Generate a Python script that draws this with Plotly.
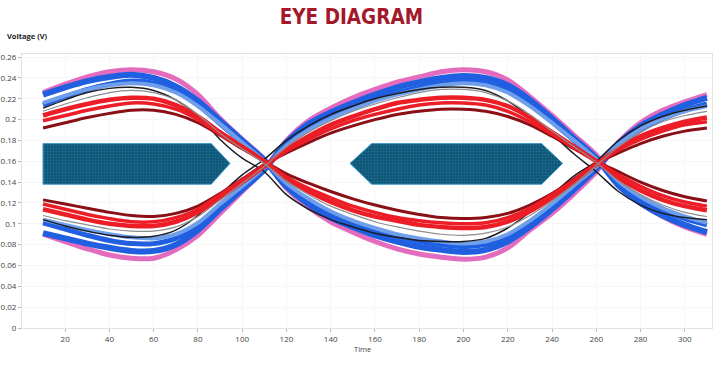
import plotly.graph_objects as go

# ---------------- data ----------------
TIME = [10, 20, 30, 40, 50, 60, 70, 80, 90, 100, 110,
        120, 130, 140, 150, 160, 170, 180, 190, 200, 210, 220, 230, 240, 250, 260,
        270, 280, 290, 300, 310]

PINK_U = [0.226, 0.234, 0.241, 0.246, 0.248, 0.246, 0.239, 0.224, 0.201, 0.181, 0.162,
          0.134, 0.116, 0.102, 0.092, 0.083, 0.076, 0.071, 0.068, 0.066, 0.068, 0.077, 0.094, 0.110, 0.129, 0.150,
          0.178, 0.197, 0.209, 0.217, 0.224]
PINK_L = [0.090, 0.083, 0.076, 0.070, 0.067, 0.067, 0.075, 0.089, 0.110, 0.131, 0.152,
          0.180, 0.199, 0.211, 0.221, 0.229, 0.236, 0.241, 0.246, 0.248, 0.246, 0.238, 0.222, 0.204, 0.185, 0.166,
          0.138, 0.120, 0.107, 0.097, 0.090]

BLUE_U = [0.224, 0.231, 0.237, 0.241, 0.243, 0.240, 0.232, 0.218, 0.199, 0.180, 0.161,
          0.136, 0.119, 0.106, 0.097, 0.089, 0.083, 0.078, 0.075, 0.073, 0.075, 0.083, 0.097, 0.114, 0.133, 0.153,
          0.177, 0.194, 0.205, 0.214, 0.221]
BLUE_U2 = [0.214, 0.222, 0.229, 0.234, 0.237, 0.235, 0.228, 0.214, 0.196, 0.178, 0.160,
           0.138, 0.122, 0.110, 0.101, 0.094, 0.088, 0.083, 0.080, 0.078, 0.080, 0.087, 0.100, 0.117, 0.135, 0.154,
           0.175, 0.190, 0.201, 0.209, 0.215]
BLUE_L = [0.091, 0.086, 0.081, 0.077, 0.074, 0.074, 0.080, 0.094, 0.114, 0.133, 0.152,
          0.178, 0.196, 0.207, 0.216, 0.224, 0.231, 0.236, 0.240, 0.242, 0.240, 0.233, 0.219, 0.201, 0.182, 0.163,
          0.137, 0.120, 0.108, 0.099, 0.092]
BLUE_L2 = [0.101, 0.095, 0.089, 0.084, 0.081, 0.081, 0.086, 0.098, 0.117, 0.135, 0.153,
           0.176, 0.192, 0.203, 0.212, 0.220, 0.226, 0.231, 0.235, 0.237, 0.235, 0.228, 0.215, 0.198, 0.180, 0.162,
           0.139, 0.124, 0.113, 0.105, 0.099]

LBLUE_U = [0.216, 0.223, 0.229, 0.233, 0.235, 0.233, 0.226, 0.213, 0.196, 0.178, 0.160,
           0.139, 0.124, 0.112, 0.103, 0.096, 0.090, 0.086, 0.083, 0.081, 0.083, 0.090, 0.103, 0.119, 0.137, 0.155,
           0.176, 0.191, 0.201, 0.208, 0.213]
LBLUE_L = [0.104, 0.099, 0.094, 0.090, 0.087, 0.086, 0.090, 0.101, 0.119, 0.136, 0.154,
           0.175, 0.190, 0.201, 0.210, 0.218, 0.224, 0.229, 0.233, 0.235, 0.233, 0.226, 0.213, 0.197, 0.180, 0.162,
           0.141, 0.126, 0.115, 0.107, 0.101]

BLACK_U = [0.211, 0.219, 0.226, 0.230, 0.231, 0.228, 0.219, 0.204, 0.181, 0.163, 0.150,
           0.128, 0.114, 0.104, 0.097, 0.091, 0.087, 0.084, 0.083, 0.083, 0.086, 0.096, 0.111, 0.128, 0.146, 0.160,
           0.180, 0.194, 0.203, 0.209, 0.213]
BLACK_L = [0.104, 0.098, 0.093, 0.089, 0.087, 0.088, 0.094, 0.108, 0.128, 0.147, 0.162,
           0.180, 0.194, 0.205, 0.213, 0.220, 0.225, 0.229, 0.231, 0.231, 0.228, 0.218, 0.203, 0.186, 0.167, 0.150,
           0.131, 0.118, 0.110, 0.106, 0.104]

GRAY_U = [0.208, 0.215, 0.221, 0.226, 0.228, 0.226, 0.219, 0.205, 0.187, 0.172, 0.158,
          0.141, 0.128, 0.117, 0.109, 0.102, 0.097, 0.093, 0.090, 0.089, 0.091, 0.097, 0.108, 0.122, 0.138, 0.156,
          0.174, 0.188, 0.198, 0.204, 0.208]
GRAY_L = [0.108, 0.103, 0.099, 0.095, 0.093, 0.093, 0.097, 0.107, 0.123, 0.139, 0.155,
          0.174, 0.188, 0.199, 0.208, 0.215, 0.221, 0.226, 0.229, 0.229, 0.226, 0.218, 0.205, 0.189, 0.174, 0.159,
          0.141, 0.128, 0.118, 0.111, 0.107]

RED_U = [0.204, 0.210, 0.215, 0.219, 0.221, 0.220, 0.214, 0.203, 0.188, 0.174, 0.160,
         0.143, 0.131, 0.121, 0.113, 0.107, 0.103, 0.099, 0.097, 0.096, 0.097, 0.102, 0.112, 0.125, 0.140, 0.157,
         0.172, 0.184, 0.192, 0.198, 0.202]
RED_U2 = [0.199, 0.204, 0.209, 0.213, 0.216, 0.215, 0.210, 0.200, 0.186, 0.173, 0.160,
          0.145, 0.134, 0.125, 0.117, 0.111, 0.106, 0.103, 0.101, 0.100, 0.101, 0.106, 0.115, 0.128, 0.142, 0.158,
          0.171, 0.181, 0.189, 0.195, 0.198]
RED_L = [0.114, 0.109, 0.104, 0.100, 0.098, 0.098, 0.102, 0.111, 0.125, 0.140, 0.155,
         0.171, 0.184, 0.195, 0.203, 0.210, 0.216, 0.219, 0.221, 0.221, 0.219, 0.213, 0.202, 0.188, 0.174, 0.160,
         0.144, 0.132, 0.123, 0.117, 0.113]
RED_L2 = [0.119, 0.114, 0.109, 0.105, 0.102, 0.102, 0.106, 0.114, 0.128, 0.142, 0.156,
          0.170, 0.181, 0.191, 0.199, 0.205, 0.210, 0.214, 0.216, 0.216, 0.214, 0.208, 0.198, 0.186, 0.173, 0.160,
          0.147, 0.136, 0.127, 0.121, 0.117]

DRED_U = [0.192, 0.197, 0.202, 0.206, 0.209, 0.209, 0.205, 0.197, 0.185, 0.172, 0.160,
          0.148, 0.139, 0.131, 0.124, 0.118, 0.113, 0.109, 0.106, 0.105, 0.106, 0.110, 0.118, 0.129, 0.143, 0.158,
          0.168, 0.177, 0.184, 0.189, 0.192]
DRED_L = [0.123, 0.119, 0.115, 0.111, 0.108, 0.107, 0.110, 0.117, 0.129, 0.143, 0.157,
          0.168, 0.178, 0.187, 0.194, 0.200, 0.205, 0.208, 0.210, 0.210, 0.208, 0.203, 0.195, 0.184, 0.172, 0.160,
          0.150, 0.140, 0.132, 0.126, 0.122]

# eye-opening markers (data coordinates)
LEFT_MARK_T = [10, 86, 94.5, 86, 10, 10]
LEFT_MARK_V = [0.177, 0.177, 0.158, 0.138, 0.138, 0.177]
RIGHT_MARK_T = [148.7, 158.5, 235.3, 244.8, 235.3, 158.5, 148.7]
RIGHT_MARK_V = [0.158, 0.177, 0.177, 0.158, 0.138, 0.138, 0.158]

X_TICKS = [20, 40, 60, 80, 100, 120, 140, 160, 180, 200, 220, 240, 260, 280, 300]
Y_TICKS = [0, 0.02, 0.04, 0.06, 0.08, 0.1, 0.12, 0.14, 0.16, 0.18, 0.2, 0.22, 0.24, 0.26]
Y_TICK_TEXT = ["0", "0.02", "0.04", "0.06", "0.08", "0.1", "0.12", "0.14", "0.16",
               "0.18", "0.2", "0.22", "0.24", "0.26"]

# ---------------- figure ----------------
PINK = "#e46cbf"
BLUE = "#1f5fe0"
LBLUE = "#6f9fea"
BLACK = "#1c1c22"
GRAY = "#8e8e8e"
RED = "#ec1d26"
DRED = "#8a1015"

series = [
    (PINK_U, PINK, 5), (PINK_L, PINK, 5),
    (BLUE_U, BLUE, 6), (BLUE_L, BLUE, 6),
    (BLUE_U2, BLUE, 5), (BLUE_L2, BLUE, 5),
    (LBLUE_U, LBLUE, 4), (LBLUE_L, LBLUE, 4),
    (BLACK_U, BLACK, 1.5), (BLACK_L, BLACK, 1.5),
    (DRED_U, DRED, 3), (DRED_L, DRED, 3),
    (RED_U, RED, 4.5), (RED_L, RED, 4.5),
    (RED_U2, RED, 3.5), (RED_L2, RED, 3.5),
    (GRAY_U, GRAY, 1.2), (GRAY_L, GRAY, 1.2),
]

fig = go.Figure()

for vals, col, w in series:
    fig.add_trace(go.Scatter(
        x=TIME, y=vals, mode="lines",
        line=dict(color=col, width=w, shape="spline", smoothing=0.8),
        hoverinfo="skip", showlegend=False))

for tx, vy in ((LEFT_MARK_T, LEFT_MARK_V), (RIGHT_MARK_T, RIGHT_MARK_V)):
    fig.add_trace(go.Scatter(
        x=tx, y=vy, mode="lines", fill="toself",
        fillcolor="#115879",
        fillpattern=dict(shape=".", bgcolor="#0f5475", fgcolor="#2a86b0",
                         size=3, solidity=0.35),
        line=dict(color="#3d9bcc", width=1),
        hoverinfo="skip", showlegend=False))

fig.update_layout(
    width=720, height=365,
    margin=dict(l=22, r=8, t=54, b=37),
    paper_bgcolor="white", plot_bgcolor="white",
    title=dict(text="<b>EYE DIAGRAM</b>", x=0.488, xanchor="center",
               y=0.955, yanchor="middle",
               font=dict(family="Liberation Sans Narrow, DejaVu Sans Condensed, Arial Narrow, sans-serif",
                         size=20.5, color="#a3192b")),
    font=dict(family="Open Sans, Lato, sans-serif", size=8, color="#444"),
)

fig.update_xaxes(
    range=[0.5, 312.3], tickvals=X_TICKS, ticks="outside", ticklen=3,
    tickcolor="#bbb", showline=True, linecolor="#e2e2e2", mirror=True,
    showgrid=True, gridcolor="#f6f6f6", zeroline=False, automargin=False,
    tickfont=dict(size=8, color="#444"))
fig.update_yaxes(
    range=[0, 0.263], tickvals=Y_TICKS, ticktext=Y_TICK_TEXT, ticks="outside",
    ticklen=3, tickcolor="#bbb", showline=True, linecolor="#e2e2e2", mirror=True,
    showgrid=True, gridcolor="#f6f6f6", zeroline=False, automargin=False,
    tickfont=dict(size=8, color="#444"))

fig.add_annotation(text="<b>Voltage (V)</b>", xref="paper", yref="paper",
                   x=-0.0246, y=1.066, xanchor="left", yanchor="middle",
                   showarrow=False, font=dict(size=7.5, color="#222"))
fig.add_annotation(text="Time", xref="paper", yref="paper",
                   x=0.494, y=-0.077, xanchor="center", yanchor="middle",
                   showarrow=False, font=dict(size=7.5, color="#444"))

fig.write_html("out.html", config={"displayModeBar": False},
               post_script="document.body.style.margin='0px';")
